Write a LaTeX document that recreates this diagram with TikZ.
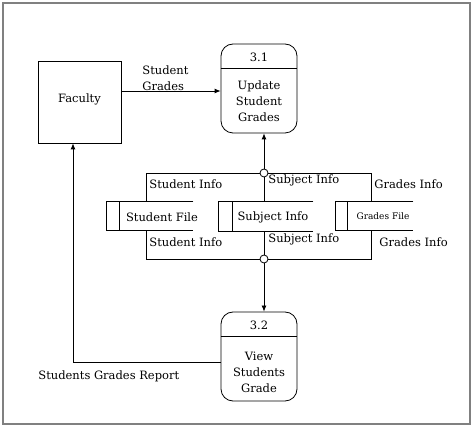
\documentclass[tikz,border=0pt]{standalone}
\usepackage{fontspec}
\setmainfont{DejaVu Serif}
\usetikzlibrary{arrows.meta,calc}
\begin{document}
\begin{tikzpicture}[x=1pt,y=-1pt,
  font=\fontsize{11.5}{16}\selectfont,
  line width=0.8pt,
  arr/.style={-{Latex[length=6pt,width=5pt]}},
  ent/.style={draw,minimum width=83pt,minimum height=82pt,inner sep=0pt},
  proc/.style={draw,rounded corners=12pt,minimum width=76pt,minimum height=89pt,inner sep=0pt},
  store/.style={inner sep=0pt,minimum height=28pt},
  junc/.style={draw,circle,fill=white,minimum size=8pt,inner sep=0pt},
  lbl/.style={anchor=west,inner sep=0pt}]
\useasboundingbox (0,0) rectangle (474,427);
\draw[gray,line width=1.2pt] (3,3) rectangle (470,424);
% external entity
\node[ent] (fac) at (79.5,102) {};
\node (facl) at (79.5,99) {Faculty};
% processes
\node[proc] (p1) at (259,88.5) {};
\coordinate (d1) at (0,68);
\draw (p1.west |- d1) -- (p1.east |- d1);
\node (p1n) at (259,57) {3.1};
\node[align=center] (p1t) at (259,101) {Update\\Student\\Grades};
\node[proc] (p2) at (259,356.5) {};
\coordinate (d2) at (0,336);
\draw (p2.west |- d2) -- (p2.east |- d2);
\node (p2n) at (259,325) {3.2};
\node[align=center] (p2t) at (259,372) {View\\Students\\Grade};
% data stores
\node[store,minimum width=86pt] (sf) at (150,216) {};
\node[store,minimum width=94pt,minimum height=29pt] (ss) at (266,216.5) {};
\node[store,minimum width=77pt] (sg) at (374.5,216) {};
\foreach \s/\w in {sf/13pt,ss/14pt,sg/12pt}{
  \draw (\s.north east) -- (\s.north west) -- (\s.south west) -- (\s.south east);
  \draw ([xshift=\w]\s.north west) -- ([xshift=\w]\s.south west);
}
\node (sft) at (162,217) {Student File};
\node (sst) at (273,217) {Subject Info};
\node[font=\fontsize{9}{11}\selectfont] (sgt) at (383,216) {Grades File};
% junctions
\node[junc] (j1) at (264,173) {};
\node[junc] (j2) at (264,259) {};
\draw (j1.west) -| ([xshift=40pt]sf.north west);
\draw (j1.east) -| ([xshift=36pt]sg.north west);
\draw (j1.south) -- (j1 |- ss.north);
\draw[arr] (j1.north) -- (j1 |- p1.south);
\draw (j2.west) -| ([xshift=40pt]sf.south west);
\draw (j2.east) -| ([xshift=36pt]sg.south west);
\draw (j2.north) -- (j2 |- ss.south);
\draw[arr] (j2.south) -- (j2 |- p2.north);
% flows
\coordinate (ya) at (0,91);
\draw[arr] (fac.east |- ya) -- (p1.west |- ya);
\node[lbl,align=left] (sgl) at (142,78) {Student\\Grades};
\coordinate (yr) at (0,362);
\coordinate (xr) at (73,0);
\draw[arr] (p2.west |- yr) -| (fac.south -| xr);
\node[lbl] (rpl) at (38,376) {Students Grades Report};
% flow labels
\node[lbl] (l1) at (149,184) {Student Info};
\node[lbl] (l2) at (268,180) {Subject Info};
\node[lbl] (l3) at (374,184) {Grades Info};
\node[lbl] (l4) at (149,242) {Student Info};
\node[lbl] (l5) at (268,239) {Subject Info};
\node[lbl] (l6) at (379,242) {Grades Info};
\end{tikzpicture}
\end{document}
